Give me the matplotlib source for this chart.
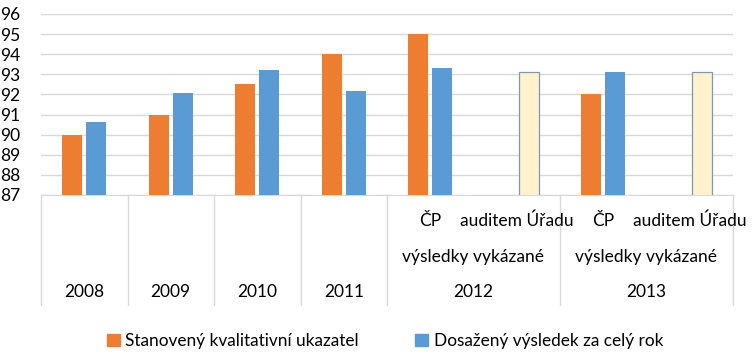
import matplotlib
matplotlib.use('Agg')
import matplotlib.pyplot as plt
from matplotlib.patches import Patch
import numpy as np

# data
slot_labels = ['2008', '2009', '2010', '2011', 'ČP', 'auditem Úřadu', 'ČP', 'auditem Úřadu']
group_labels = ['2012', '2013']
sub_caption = 'výsledky vykázané'
stanoveny = [90.0, 91.0, 92.5, 94.0, 95.0, np.nan, 92.0, np.nan]
dosazeny = [90.65, 92.07, 93.2, 92.17, 93.3, np.nan, 93.1, np.nan]
audit = [np.nan, np.nan, np.nan, np.nan, np.nan, 93.1, np.nan, 93.1]

orange = '#ED7D31'
blue = '#5B9BD5'
cream = '#FFF2CC'
grid_c = '#D9D9D9'
font = 'Lato'

plt.rcParams['font.family'] = [font, 'DejaVu Sans']

fig = plt.figure(figsize=(7.53, 3.54), dpi=100)
ax = fig.add_axes([41 / 753, 1 - 195 / 354, (733 - 41) / 753, (195 - 14) / 354])

x = np.arange(len(slot_labels))
w = 0.23
off = 0.14
ax.bar(x - off, stanoveny, w, color=orange, zorder=3)
ax.bar(x + off, dosazeny, w, color=blue, zorder=3)
ax.bar(x + off, audit, w, color=cream, edgecolor='#7A9AB5', linewidth=0.9, zorder=3)

ax.set_xlim(-0.5, len(slot_labels) - 0.5)
ax.set_ylim(87, 96)
ax.set_yticks(range(87, 97))
ax.tick_params(axis='y', length=0, pad=15, labelsize=12.5)
ax.set_xticks([])
ax.yaxis.grid(True, color=grid_c, linewidth=1)
ax.set_axisbelow(True)
for s in ['top', 'right', 'left']:
    ax.spines[s].set_visible(False)
ax.spines['bottom'].set_color(grid_c)

tr = ax.get_xaxis_transform()
# category separators under the axis
for b in [-0.5, 0.5, 1.5, 2.5, 3.5, 5.5, 7.5]:
    ax.plot([b, b], [0, -0.608], transform=tr, color=grid_c, lw=1, clip_on=False)

# labels
fs = 12.5
for i, lab in enumerate(slot_labels):
    if i < 4:
        ax.text(i, -0.534, lab, transform=tr, ha='center', va='center', fontsize=fs)
    else:
        ax.text(i, -0.142, lab, transform=tr, ha='center', va='center', fontsize=fs)
for j, g in enumerate(group_labels):
    cx = 4.5 + 2 * j
    ax.text(cx, -0.341, sub_caption, transform=tr, ha='center', va='center', fontsize=fs)
    ax.text(cx, -0.534, g, transform=tr, ha='center', va='center', fontsize=fs)

handles = [Patch(color=orange, label='Stanovený kvalitativní ukazatel'),
           Patch(color=blue, label='Dosažený výsledek za celý rok')]
fig.legend(handles=handles, loc='center', bbox_to_anchor=(385 / 753, 1 - 341 / 354),
           ncol=2, frameon=False, fontsize=12.4, handlelength=0.75, handleheight=0.75,
           handletextpad=0.3, columnspacing=3.3)

fig.savefig('out.png', dpi=100)
